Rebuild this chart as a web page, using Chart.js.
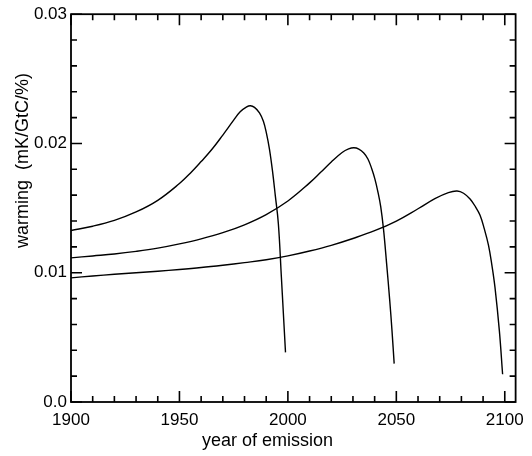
<!DOCTYPE html>
<html>
<head>
<meta charset="utf-8">
<title>warming per emission year</title>
<script src="https://cdn.jsdelivr.net/npm/chart.js@4.4.0/dist/chart.umd.min.js"></script>
<style>
  html, body { margin: 0; padding: 0; background: #fff; }
  canvas { display: block; }
</style>
</head>
<body>
<canvas id="chart" width="532" height="456"></canvas>
<script>
(function () {
  'use strict';

  /* ------------------------------------------
     DATA
     ------------------------------------------ */
  var years1 = [1900, 1910, 1920, 1930, 1940, 1950, 1955, 1960, 1965, 1970, 1975, 1978, 1981, 1982.7,
                1984.6, 1986.9, 1988.7, 1990.1, 1991.5, 1992.9, 1994.2, 1995.6, 1997, 1997.9, 1998.9];
  var warming1 = [0.01327, 0.01360, 0.01405, 0.01470, 0.01560, 0.01690, 0.01770, 0.01860, 0.01955,
                  0.02065, 0.02180, 0.02245, 0.02283, 0.02292, 0.02279, 0.02237, 0.02172, 0.02080,
                  0.01957, 0.01788, 0.01596, 0.01381, 0.00967, 0.00691, 0.00384];

  var years2 = [1900, 1910, 1920, 1930, 1940, 1950, 1960, 1970, 1980, 1990, 2000, 2010, 2015, 2020,
                2025, 2028, 2030.4, 2032.7, 2035, 2036.9, 2038.7, 2040.1, 2041.4, 2042.8, 2044.1,
                2045.5, 2046.9, 2048, 2049];
  var warming2 = [0.01115, 0.01130, 0.01145, 0.01165, 0.01190, 0.01223, 0.01262, 0.01310, 0.01371,
                  0.01450, 0.01555, 0.01695, 0.01775, 0.01857, 0.01930, 0.01958, 0.01967, 0.01957,
                  0.01926, 0.01880, 0.01803, 0.01726, 0.01634, 0.01511, 0.01335, 0.01074, 0.00798,
                  0.00552, 0.00297];

  var years3 = [1900, 1910, 1920, 1930, 1940, 1950, 1960, 1970, 1980, 1990, 2000, 2010, 2020, 2030,
                2040, 2050, 2060, 2068, 2074, 2078, 2081, 2084, 2086.5, 2088.6, 2090.5, 2092.5,
                2094, 2095.5, 2097.5, 2099];
  var warming3 = [0.00960, 0.00975, 0.00988, 0.01000, 0.01012, 0.01025, 0.01040, 0.01058, 0.01078,
                  0.01100, 0.01130, 0.01168, 0.01212, 0.01265, 0.01325, 0.01400, 0.01495, 0.01575,
                  0.01620, 0.01632, 0.01615, 0.01570, 0.01510, 0.01445, 0.01343, 0.01212, 0.01065,
                  0.00885, 0.00552, 0.00215];

  var xTickValues = [1900, 1950, 2000, 2050, 2100];
  var yTickValues = [0, 0.01, 0.02, 0.03];
  var yTickLabels = ['0.0', '0.01', '0.02', '0.03'];

  var xTitle = 'year of emission';
  var yTitle = 'warming  (mK/GtC/%)';

  /* ------------------------------------------
     HELPERS
     ------------------------------------------ */
  var FONT = "'Liberation Sans', Arial, Helvetica, sans-serif";

  function toPoints(xs, ys) {
    return xs.map(function (x, i) { return { x: x, y: ys[i] }; });
  }

  function lineSet(xs, ys) {
    return {
      data: toPoints(xs, ys),
      borderColor: '#000',
      borderWidth: 1.4,
      pointRadius: 0,
      fill: false,
      tension: 0.4
    };
  }

  /* ------------------------------------------
     FRAME PLUGIN — box, inward ticks, titles
     ------------------------------------------ */
  var framePlugin = {
    id: 'frame',
    afterDatasetsDraw: function (chart) {
      var ctx = chart.ctx;
      var a = chart.chartArea;
      var xs = chart.scales.x;
      var ys = chart.scales.y;
      var i, p, len;

      ctx.save();
      ctx.strokeStyle = '#000';
      ctx.lineWidth = 1.8;
      ctx.strokeRect(a.left, a.top, a.right - a.left, a.bottom - a.top);

      ctx.beginPath();
      ctx.lineWidth = 1.6;
      for (i = 0; i <= 20; i++) {
        p = xs.getPixelForValue(1900 + i * 10);
        len = i % 5 === 0 ? 11 : 6;
        ctx.moveTo(p, a.bottom); ctx.lineTo(p, a.bottom - len);
        ctx.moveTo(p, a.top); ctx.lineTo(p, a.top + len);
      }
      for (i = 0; i <= 15; i++) {
        p = ys.getPixelForValue(i * 0.002);
        len = i % 5 === 0 ? 11 : 6;
        ctx.moveTo(a.left, p); ctx.lineTo(a.left + len, p);
        ctx.moveTo(a.right, p); ctx.lineTo(a.right - len, p);
      }
      ctx.stroke();

      // axis titles
      ctx.fillStyle = '#000';
      ctx.font = '18px ' + FONT;
      ctx.textAlign = 'left';
      ctx.textBaseline = 'alphabetic';
      ctx.fillText(xTitle, 202, 446);

      ctx.translate(28, 248);
      ctx.rotate(-Math.PI / 2);
      ctx.fillText(yTitle, 0, 0);
      ctx.restore();
    }
  };

  /* ------------------------------------------
     CHART
     ------------------------------------------ */
  new Chart(document.getElementById('chart').getContext('2d'), {
    type: 'line',
    data: {
      datasets: [
        lineSet(years1, warming1),
        lineSet(years2, warming2),
        lineSet(years3, warming3)
      ]
    },
    options: {
      responsive: false,
      animation: false,
      layout: { padding: { left: 0, top: 11, right: 13, bottom: 0 } },
      plugins: {
        legend: { display: false },
        tooltip: { enabled: false }
      },
      scales: {
        x: {
          type: 'linear',
          min: 1900,
          max: 2105,
          grid: { display: false, drawTicks: false },
          border: { display: false },
          afterBuildTicks: function (scale) {
            scale.ticks = xTickValues.map(function (v) { return { value: v }; });
          },
          afterFit: function (scale) { scale.height = 54; },
          ticks: {
            padding: 8,
            maxRotation: 0,
            color: '#000',
            font: { family: FONT, size: 17 },
            callback: function (v) { return String(v); }
          }
        },
        y: {
          min: 0,
          max: 0.03,
          grid: { display: false, drawTicks: false },
          border: { display: false },
          afterBuildTicks: function (scale) {
            scale.ticks = yTickValues.map(function (v) { return { value: v }; });
          },
          afterFit: function (scale) { scale.width = 71; },
          ticks: {
            padding: 4,
            color: '#000',
            font: { family: FONT, size: 17 },
            callback: function (v) {
              var idx = yTickValues.indexOf(v);
              return idx >= 0 ? yTickLabels[idx] : '';
            }
          }
        }
      }
    },
    plugins: [framePlugin]
  });
})();
</script>
</body>
</html>
